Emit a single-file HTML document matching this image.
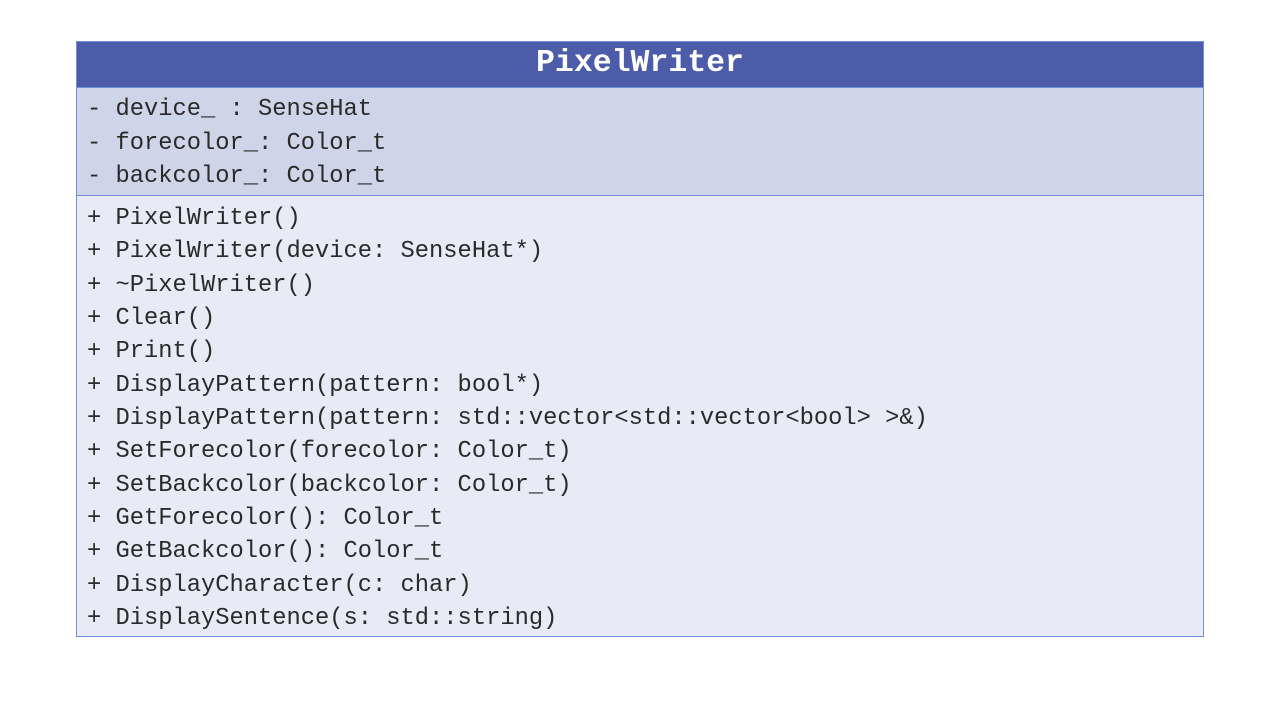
<!DOCTYPE html>
<html><head><meta charset="utf-8"><style>
body{margin:0;width:1280px;height:720px;background:#fff;position:relative;overflow:hidden;font-family:"Liberation Mono",monospace;}
.box{position:absolute;left:76px;top:41px;width:1126px;height:594px;border:1px solid #6f8fd8;background:#e8ebf5;}
.hd{position:absolute;left:0;top:0;width:1126px;height:45px;background:#4c5ca8;color:#fff;font-weight:bold;font-size:31.5px;text-align:center;line-height:43px;}
.at{position:absolute;left:0;top:45px;width:1126px;height:107px;background:#cfd5e8;border-top:1px solid #6f8fd8;border-bottom:1px solid #6f8fd8;}
.l{position:absolute;left:10px;font-size:23.75px;color:#2a2a2a;white-space:pre;line-height:30px;}
</style></head><body>
<div class="box">
<div class="hd">PixelWriter</div>
<div class="at"></div>
<div class="l" style="top:53px">- device_ : SenseHat</div>
<div class="l" style="top:87px">- forecolor_: Color_t</div>
<div class="l" style="top:120px">- backcolor_: Color_t</div>
<div class="l" style="top:162px">+ PixelWriter()</div>
<div class="l" style="top:195px">+ PixelWriter(device: SenseHat*)</div>
<div class="l" style="top:229px">+ ~PixelWriter()</div>
<div class="l" style="top:262px">+ Clear()</div>
<div class="l" style="top:295px">+ Print()</div>
<div class="l" style="top:329px">+ DisplayPattern(pattern: bool*)</div>
<div class="l" style="top:362px">+ DisplayPattern(pattern: std::vector&lt;std::vector&lt;bool&gt; &gt;&amp;)</div>
<div class="l" style="top:395px">+ SetForecolor(forecolor: Color_t)</div>
<div class="l" style="top:429px">+ SetBackcolor(backcolor: Color_t)</div>
<div class="l" style="top:462px">+ GetForecolor(): Color_t</div>
<div class="l" style="top:495px">+ GetBackcolor(): Color_t</div>
<div class="l" style="top:529px">+ DisplayCharacter(c: char)</div>
<div class="l" style="top:562px">+ DisplaySentence(s: std::string)</div>
</div>
</body></html>
